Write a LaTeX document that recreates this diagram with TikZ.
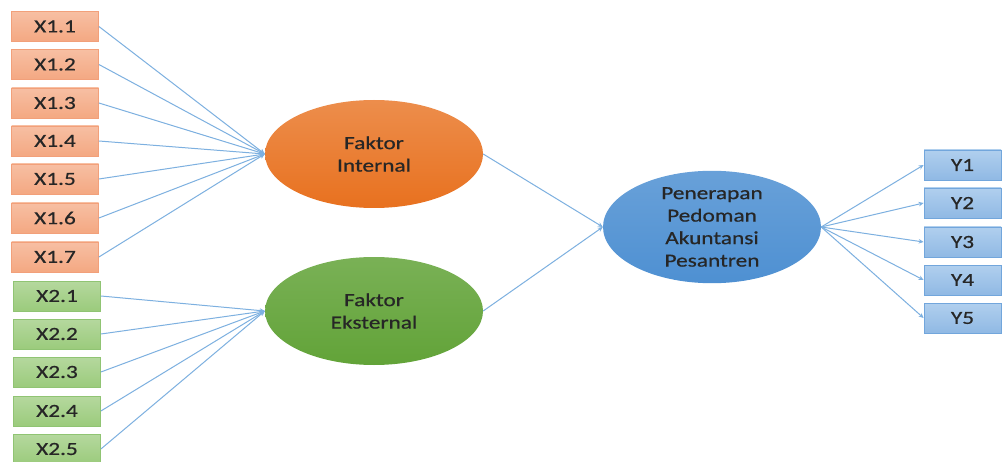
\documentclass[tikz,border=0pt]{standalone}
\usepackage{fontspec}
\usetikzlibrary{shapes.geometric,arrows.meta}
\newfontfamily\lblfont[FakeStretch=1.26,FakeBold=0.6]{Carlito}
\definecolor{linec}{HTML}{7DB0E0}
\definecolor{txt}{HTML}{262626}
\definecolor{ofr}{HTML}{F2A07A}
\definecolor{otop}{HTML}{F7BFA3}
\definecolor{obot}{HTML}{F4A882}
\definecolor{gfr}{HTML}{90C473}
\definecolor{gtop}{HTML}{B5D89E}
\definecolor{gbot}{HTML}{9BCB7C}
\definecolor{yfr}{HTML}{72A6DC}
\definecolor{ytop}{HTML}{B0CFEE}
\definecolor{ybot}{HTML}{90B9E4}
\definecolor{OrI}{HTML}{E8711F}
\definecolor{GrE}{HTML}{62A338}
\definecolor{BlP}{HTML}{4E90D2}
\tikzset{
  lbl/.style={font=\lblfont\fontsize{18.5}{22.5}\selectfont, text=txt, align=center},
  obox/.style={lbl, draw=ofr, line width=0.8pt, top color=otop, bottom color=obot, minimum width=87pt, minimum height=30pt, inner sep=0pt},
  gbox/.style={obox, draw=gfr, top color=gtop, bottom color=gbot},
  ybox/.style={obox, draw=yfr, top color=ytop, bottom color=ybot, minimum width=77pt},
  latent/.style={lbl, ellipse, inner sep=0pt, minimum width=218pt, minimum height=108pt},
  link/.style={draw=linec, line width=1pt, -{Stealth[length=5pt,width=4.5pt]}},
}
\begin{document}
\begin{tikzpicture}[x=1pt,y=-1pt]
\useasboundingbox[fill=white] (0,0) rectangle (1003,462);
% latent variables
\node[latent, top color=OrI!80!white, bottom color=OrI] (fi) at (374,154) {Faktor\\Internal};
\node[latent, top color=GrE!85!white, bottom color=GrE] (fe) at (374,311) {Faktor\\Eksternal};
\node[latent, top color=BlP!85!white, bottom color=BlP] (pp) at (712,227) {Penerapan\\Pedoman\\Akuntansi\\Pesantren};
% X1 indicators
\foreach \i/\y in {1/26.5,2/64.5,3/103,4/141,5/179,6/218,7/257}{
  \node[obox] (x1\i) at (55,\y) {X1.\i};
  \draw[link] (x1\i.east) -- (fi.west);
}
% X2 indicators
\foreach \i/\y in {1/296,2/334,3/372,4/411,5/449}{
  \node[gbox] (x2\i) at (57,\y) {X2.\i};
  \draw[link] (x2\i.east) -- (fe.west);
}
% Y indicators
\foreach \i/\y in {1/165,2/203,3/242,4/280,5/318}{
  \node[ybox] (y\i) at (962.5,\y) {Y\i};
  \draw[link] (pp.east) -- (y\i.west);
}
\draw[link] (fi.east) -- (pp.west);
\draw[link] (fe.east) -- (pp.west);
\end{tikzpicture}
\end{document}
